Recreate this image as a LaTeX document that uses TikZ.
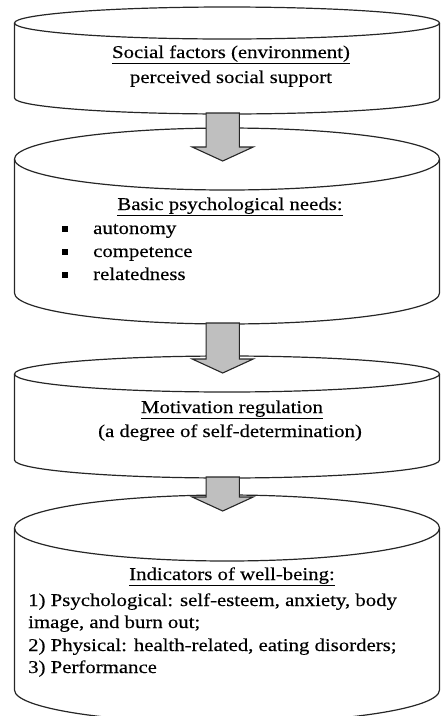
\documentclass[tikz,border=0pt]{standalone}
\usepackage{fontspec}
\setmainfont{Liberation Serif}[FakeStretch=1.155, FakeBold=0.3]
\usetikzlibrary{calc}
\tikzset{
  cylline/.style={draw=black!85, line width=1.2pt},
  blkarrow/.style={draw=black!85, line width=1.1pt, fill=black!25, line join=miter},
  txt/.style={inner sep=0pt, anchor=base, font=\fontsize{18}{22}\selectfont},
  txtl/.style={txt, anchor=base west},
}
\newcommand\mycyl[3]{% top y, bottom y, y radius
  \draw[cylline] (14.5,#1) -- (14.5,#2)
     arc[start angle=180, end angle=360, x radius=212.5pt, y radius=#3pt] -- (439.5,#1);
  \draw[cylline] (227,#1) ellipse[x radius=212.5pt, y radius=#3pt];
}
\newcommand\myblk[2]{% start coordinate, tip coordinate
  \draw[blkarrow] ($(#1)+(-16.6,0)$) -- ($(#2)+(-16.6,-14)$) -- ($(#2)+(-30.5,-14)$)
    -- (#2) -- ($(#2)+(30.5,-14)$) -- ($(#2)+(16.6,-14)$) -- ($(#1)+(16.6,0)$) -- cycle;
}
\newcommand\mybul{\makebox[31pt][l]{\rule[2pt]{6pt}{6pt}}}
\begin{document}
\begin{tikzpicture}[x=1pt, y=-1pt]
  \useasboundingbox (0,0) rectangle (440,716);
  % cylinders
  \mycyl{23}{98}{16}
  \mycyl{159}{293}{31}
  \mycyl{374}{460}{18}
  \mycyl{528}{690}{33}
  % arrows
  \coordinate (a1s) at (222.7,113);
  \coordinate (a1e) at (222.7,161);
  \coordinate (a2s) at (222.7,323);
  \coordinate (a2e) at (222.7,373);
  \coordinate (a3s) at (222.7,477);
  \coordinate (a3e) at (222.7,511);
  \myblk{a1s}{a1e}
  \myblk{a2s}{a2e}
  \myblk{a3s}{a3e}
  % texts
  \node[txt] (t1a) at (231,58) {\underline{Social factors (environment)}};
  \node[txt] (t1b) at (231,83) {perceived social support};
  \node[txt] (t2a) at (230,210) {\underline{Basic psychological needs:}};
  \node[txtl] (t2b) at (62,234) {\mybul autonomy};
  \node[txtl] (t2c) at (62,257) {\mybul competence};
  \node[txtl] (t2d) at (62,280) {\mybul relatedness};
  \node[txt] (t3a) at (232,413) {\underline{Motivation regulation}};
  \node[txt] (t3b) at (230,437) {(a degree of self-determination)};
  \node[txt] (t4a) at (232,580) {\underline{Indicators of well-being:}};
  \node[txtl] (t4b) at (28,606) {1) Psychological: self-esteem, anxiety, body};
  \node[txtl] (t4c) at (28,628) {image, and burn out;};
  \node[txtl] (t4d) at (28,651) {2) Physical: health-related, eating disorders;};
  \node[txtl] (t4e) at (28,673) {3) Performance};
\end{tikzpicture}
\end{document}
